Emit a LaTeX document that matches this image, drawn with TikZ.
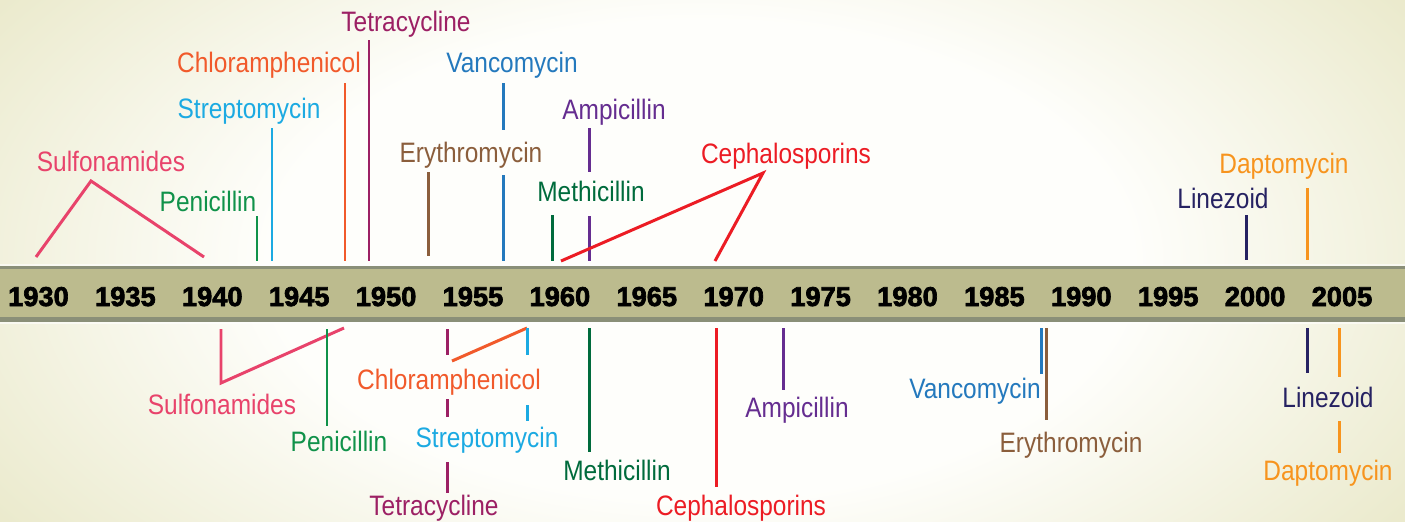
\documentclass[tikz,border=0pt]{standalone}
\usepackage{fontspec}
\newfontfamily\drugfont[FakeStretch=0.87]{Liberation Sans}
\newfontfamily\yearfont[BoldFeatures={FakeBold=2.5}]{Liberation Sans}

\definecolor{csulfo}{HTML}{E8436B}
\definecolor{cpeni}{HTML}{10924A}
\definecolor{cstrep}{HTML}{1CAAE2}
\definecolor{cchlor}{HTML}{F15A2B}
\definecolor{ctetra}{HTML}{9C2064}
\definecolor{cery}{HTML}{8B5E3C}
\definecolor{cvanco}{HTML}{2479BD}
\definecolor{campi}{HTML}{652D90}
\definecolor{cmeth}{HTML}{006B3C}
\definecolor{cceph}{HTML}{EC1C24}
\definecolor{clin}{HTML}{262262}
\definecolor{cdapto}{HTML}{F7941E}
\definecolor{bgin}{HTML}{FEFEFB}
\definecolor{bgout}{HTML}{E8E7C6}
\definecolor{band}{HTML}{BCBB8E}
\definecolor{bandedge}{HTML}{8A8F78}

\pgfdeclareradialshading{bgshade}{\pgfpoint{0bp}{0bp}}{color(0bp)=(bgin); color(12bp)=(bgin); color(25bp)=(bgout); color(50bp)=(bgout)}

\begin{document}
\begin{tikzpicture}[x=0.02cm, y=-0.02cm,
  lbl/.style={font=\drugfont\fontsize{16}{18}\selectfont, anchor=base, inner sep=0pt},
  yr/.style={font=\yearfont\bfseries\fontsize{15.5}{18}\selectfont, anchor=base, inner sep=0pt},
  mk/.style={line width=1.7pt}]
  \useasboundingbox (0,0) rectangle (1405,521);
  % background and time band
  \fill[bgout] (0,0) rectangle (1405,521);
  \shade[shading=bgshade] (700,260) ellipse (900 and 500);
  \fill[white, opacity=0.6] (0,264) rectangle (1405,324);
  \fill[bandedge] (0,266) rectangle (1405,322);
  \fill[band] (0,269) rectangle (1405,317);
  \foreach \yr [count=\i from 0] in {1930,1935,...,2005}
    \node[yr] (y\yr) at (38.5+86.9*\i,306) {\yr};

  % discovered (above the band)
  \node[lbl, csulfo] (sulfoT) at (111,171) {Sulfonamides};
  \coordinate (sulfoT1) at (36,257);
  \coordinate (sulfoT2) at (91,181);
  \coordinate (sulfoT3) at (204,257);
  \draw[mk, csulfo] (sulfoT1) -- (sulfoT2) -- (sulfoT3);

  \node[lbl, cpeni] (peniT) at (208,211) {Penicillin};
  \coordinate (peniT1) at (257,216);
  \coordinate (peniT2) at (257,261);
  \draw[mk, cpeni] (peniT1) -- (peniT2);

  \node[lbl, cstrep] (strepT) at (249,118) {Streptomycin};
  \coordinate (strepT1) at (272,128);
  \coordinate (strepT2) at (272,261);
  \draw[mk, cstrep] (strepT1) -- (strepT2);

  \node[lbl, cchlor] (chlorT) at (269,72) {Chloramphenicol};
  \coordinate (chlorT1) at (345,83);
  \coordinate (chlorT2) at (345,261);
  \draw[mk, cchlor] (chlorT1) -- (chlorT2);

  \node[lbl, ctetra] (tetraT) at (406,31) {Tetracycline};
  \coordinate (tetraT1) at (369,40);
  \coordinate (tetraT2) at (369,261);
  \draw[mk, ctetra] (tetraT1) -- (tetraT2);

  \node[lbl, cery] (eryT) at (471,162) {Erythromycin};
  \coordinate (eryT1) at (428,172);
  \coordinate (eryT2) at (428,256);
  \draw[mk, cery] (eryT1) -- (eryT2);

  \node[lbl, cvanco] (vancoT) at (512,72) {Vancomycin};
  \coordinate (vancoT1) at (503,83);
  \coordinate (vancoT2) at (503,130);
  \coordinate (vancoT3) at (503,175);
  \coordinate (vancoT4) at (503,261);
  \draw[mk, cvanco] (vancoT1) -- (vancoT2) (vancoT3) -- (vancoT4);

  \node[lbl, campi] (ampiT) at (614,119) {Ampicillin};
  \coordinate (ampiT1) at (589,128);
  \coordinate (ampiT2) at (589,172);
  \coordinate (ampiT3) at (589,216);
  \coordinate (ampiT4) at (589,261);
  \draw[mk, campi] (ampiT1) -- (ampiT2) (ampiT3) -- (ampiT4);

  \node[lbl, cmeth] (methT) at (591,201) {Methicillin};
  \coordinate (methT1) at (552,215);
  \coordinate (methT2) at (552,261);
  \draw[mk, cmeth] (methT1) -- (methT2);

  \node[lbl, cceph] (cephT) at (786,163) {Cephalosporins};
  \coordinate (cephT1) at (561,261);
  \coordinate (cephT2) at (763,173);
  \coordinate (cephT3) at (715,261);
  \draw[mk, cceph] (cephT1) -- (cephT2) -- (cephT3);

  \node[lbl, clin] (linT) at (1223,208) {Linezoid};
  \coordinate (linT1) at (1246,215);
  \coordinate (linT2) at (1246,260);
  \draw[mk, clin] (linT1) -- (linT2);

  \node[lbl, cdapto] (daptoT) at (1284,173) {Daptomycin};
  \coordinate (daptoT1) at (1307,188);
  \coordinate (daptoT2) at (1307,260);
  \draw[mk, cdapto] (daptoT1) -- (daptoT2);

  % resistance (below the band)
  \node[lbl, csulfo] (sulfoB) at (222,414) {Sulfonamides};
  \coordinate (sulfoB1) at (221,329);
  \coordinate (sulfoB2) at (221,383);
  \coordinate (sulfoB3) at (344,328);
  \draw[mk, csulfo] (sulfoB1) -- (sulfoB2) -- (sulfoB3);

  \node[lbl, cpeni] (peniB) at (339,451) {Penicillin};
  \coordinate (peniB1) at (327,329);
  \coordinate (peniB2) at (327,426);
  \draw[mk, cpeni] (peniB1) -- (peniB2);

  \node[lbl, ctetra] (tetraB) at (434,515) {Tetracycline};
  \coordinate (tetraB1) at (447,329);
  \coordinate (tetraB2) at (447,355);
  \coordinate (tetraB3) at (447,399);
  \coordinate (tetraB4) at (447,417);
  \coordinate (tetraB5) at (447,462);
  \coordinate (tetraB6) at (447,493);
  \draw[mk, ctetra] (tetraB1) -- (tetraB2) (tetraB3) -- (tetraB4) (tetraB5) -- (tetraB6);

  \node[lbl, cchlor] (chlorB) at (449,389) {Chloramphenicol};
  \coordinate (chlorB1) at (452,361);
  \coordinate (chlorB2) at (527,328);
  \draw[mk, cchlor] (chlorB1) -- (chlorB2);

  \node[lbl, cstrep] (strepB) at (487,447) {Streptomycin};
  \coordinate (strepB1) at (527,328);
  \coordinate (strepB2) at (527,355);
  \coordinate (strepB3) at (527,405);
  \coordinate (strepB4) at (527,421);
  \draw[mk, cstrep] (strepB1) -- (strepB2) (strepB3) -- (strepB4);

  \node[lbl, cmeth] (methB) at (617,480) {Methicillin};
  \coordinate (methB1) at (589,328);
  \coordinate (methB2) at (589,452);
  \draw[mk, cmeth] (methB1) -- (methB2);

  \node[lbl, cceph] (cephB) at (741,515) {Cephalosporins};
  \coordinate (cephB1) at (716,328);
  \coordinate (cephB2) at (716,487);
  \draw[mk, cceph] (cephB1) -- (cephB2);

  \node[lbl, campi] (ampiB) at (797,417) {Ampicillin};
  \coordinate (ampiB1) at (783,328);
  \coordinate (ampiB2) at (783,390);
  \draw[mk, campi] (ampiB1) -- (ampiB2);

  \node[lbl, cvanco] (vancoB) at (975,398) {Vancomycin};
  \coordinate (vancoB1) at (1041,328);
  \coordinate (vancoB2) at (1041,374);
  \draw[mk, cvanco] (vancoB1) -- (vancoB2);

  \node[lbl, cery] (eryB) at (1071,452) {Erythromycin};
  \coordinate (eryB1) at (1046,328);
  \coordinate (eryB2) at (1046,420);
  \draw[mk, cery] (eryB1) -- (eryB2);

  \node[lbl, clin] (linB) at (1328,407) {Linezoid};
  \coordinate (linB1) at (1307,328);
  \coordinate (linB2) at (1307,373);
  \draw[mk, clin] (linB1) -- (linB2);

  \node[lbl, cdapto] (daptoB) at (1328,480) {Daptomycin};
  \coordinate (daptoB1) at (1339,328);
  \coordinate (daptoB2) at (1339,377);
  \coordinate (daptoB3) at (1339,421);
  \coordinate (daptoB4) at (1339,453);
  \draw[mk, cdapto] (daptoB1) -- (daptoB2) (daptoB3) -- (daptoB4);
\end{tikzpicture}
\end{document}
